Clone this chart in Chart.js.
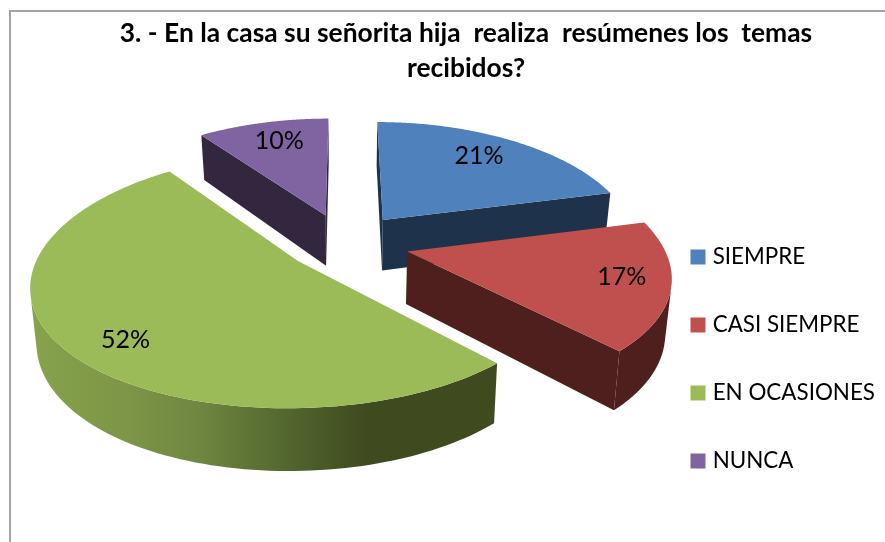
<!DOCTYPE html>
<html>
<head>
<meta charset="utf-8">
<style>html,body{margin:0;padding:0;background:#fff}canvas{display:block}</style>
<script src="https://cdn.jsdelivr.net/npm/chart.js@4/dist/chart.umd.min.js"></script>
</head>
<body>
<canvas id="c" width="885" height="542"></canvas>
<script>
const titleLines = ['3. - En la casa su señorita hija  realiza  resúmenes los  temas', 'recibidos?'];
const categories = ['SIEMPRE', 'CASI SIEMPRE', 'EN OCASIONES', 'NUNCA'];
const values = [21, 17, 52, 10];
const topColors = ['#4F81BD', '#C0504D', '#9BBB59', '#8064A2'];
const wallColors = ['#1F324C', '#4F1F1E', null, '#33273F'];
const greenWallColors = ['#87A34D', '#7D9647', '#6F8741', '#556A30', '#3F4A1F', '#3F4A1F'];
const greenWallStops = [0, 0.2, 0.36, 0.53, 0.72, 1];
const drawOrder = [3, 0, 1, 2];
const sliceOffsets = [63, 63, 58, 63];
const labelNudgeX = [-7, 11, 5, 4];
const labelNudgeY = [-1, -2, 12, 0];

const PX = 0.0007, PY = 0.0006, A = 794, SX = 1.02, H = 52, LIFT = 115.8, SHIFT = -3.2, LABEL_R = 0.78;

function project(el, px, py, down) {
  const wx = 1 + PX * py, wy = 1 + PY * py;
  const k = down ? 0.98 : 1;
  return {
    x: el.x + SHIFT + SX * px / wx * k,
    y: el.y - LIFT - A * (1 - 1 / wy) + (down ? H / wy : 0)
  };
}
function planePoint(off, r, ang) {
  return { px: off.x + r * Math.cos(ang), py: off.y - r * Math.sin(ang) };
}
function visibleWall(a, b, c, d) {
  const q = [a, b, c, d];
  let s = 0;
  for (let i = 0; i < 4; i++) {
    const u = q[i], v = q[(i + 1) % 4];
    s += u.x * v.y - v.x * u.y;
  }
  return s < 0;
}
function fillPoly(ctx, list) {
  ctx.beginPath();
  list.forEach((t, k) => k ? ctx.lineTo(t.x, t.y) : ctx.moveTo(t.x, t.y));
  ctx.closePath();
  ctx.fill();
}

const pie3d = {
  id: 'pie3d',
  beforeDraw(chart) {
    const ctx = chart.ctx;
    ctx.save();
    ctx.fillStyle = '#fff';
    ctx.fillRect(0, 0, chart.width, chart.height);
    ctx.strokeStyle = '#A3A3A3';
    ctx.lineWidth = 2;
    ctx.strokeRect(10, 11, chart.width + 40, chart.height + 40);
    ctx.restore();
  },
  beforeDatasetDraw(chart, args) {
    const ctx = chart.ctx;
    const arcs = chart.getDatasetMeta(args.index).data;
    ctx.save();
    drawOrder.forEach(i => {
      const el = arcs[i];
      const mid = (el.startAngle + el.endAngle) / 2;
      const d = el.options.offset;
      const off = { x: d * Math.cos(mid), y: -d * Math.sin(mid) };
      const pts = [{ px: off.x, py: off.y }];
      const n = 120;
      for (let k = 0; k <= n; k++) {
        pts.push(planePoint(off, el.outerRadius, el.startAngle + (el.endAngle - el.startAngle) * k / n));
      }
      const top = pts.map(q => project(el, q.px, q.py, false));
      const bot = pts.map(q => project(el, q.px, q.py, true));
      let wall = wallColors[i];
      if (!wall) {
        const minX = Math.min(...top.map(t => t.x)), maxX = Math.max(...top.map(t => t.x));
        wall = ctx.createLinearGradient(minX, 0, maxX, 0);
        greenWallStops.forEach((s, k) => wall.addColorStop(s, greenWallColors[k]));
      }
      ctx.fillStyle = wall;
      const last = pts.length - 1;
      if (visibleWall(top[0], top[1], bot[1], bot[0])) fillPoly(ctx, [top[0], top[1], bot[1], bot[0]]);
      if (visibleWall(top[last], top[0], bot[0], bot[last])) fillPoly(ctx, [top[last], top[0], bot[0], bot[last]]);
      const rimTop = [], rimBot = [];
      for (let a = 1; a < last; a++) {
        if (visibleWall(top[a], top[a + 1], bot[a + 1], bot[a])) {
          if (!rimTop.length) { rimTop.push(top[a]); rimBot.push(bot[a]); }
          rimTop.push(top[a + 1]);
          rimBot.push(bot[a + 1]);
        }
      }
      if (rimTop.length) fillPoly(ctx, rimTop.concat(rimBot.reverse()));
      ctx.fillStyle = el.options.backgroundColor;
      fillPoly(ctx, top);
    });
    ctx.restore();
    return false;
  },
  afterDatasetsDraw(chart) {
    const ctx = chart.ctx;
    const arcs = chart.getDatasetMeta(0).data;
    ctx.save();
    ctx.font = '25px Lato';
    ctx.fillStyle = '#000';
    ctx.textAlign = 'center';
    ctx.textBaseline = 'middle';
    arcs.forEach((el, i) => {
      const mid = (el.startAngle + el.endAngle) / 2;
      const d = el.options.offset;
      const off = { x: d * Math.cos(mid), y: -d * Math.sin(mid) };
      const q = planePoint(off, el.outerRadius * LABEL_R, mid);
      const s = project(el, q.px, q.py, false);
      ctx.fillText(values[i] + '%', s.x + labelNudgeX[i], s.y + labelNudgeY[i]);
    });
    ctx.restore();
  }
};

new Chart(document.getElementById('c'), {
  type: 'pie',
  data: {
    labels: categories,
    datasets: [{
      data: values,
      backgroundColor: topColors,
      borderWidth: 0,
      offset: sliceOffsets,
      radius: 250
    }]
  },
  options: {
    responsive: false,
    animation: false,
    layout: { padding: { left: 47, right: 0, top: 0, bottom: 0 } },
    plugins: {
      tooltip: { enabled: false },
      title: {
        display: true,
        text: titleLines,
        color: '#000',
        font: { family: 'Lato', size: 26.4, weight: 'bold', lineHeight: 1.35 },
        padding: { top: 15.5, bottom: 89 }
      },
      legend: {
        position: 'right',
        fullSize: false,
        labels: {
          color: '#000',
          font: { family: 'Lato', size: 22.4 },
          boxWidth: 7,
          boxHeight: 7,
          padding: 45.6,
          generateLabels(chart) {
            return Chart.overrides.doughnut.plugins.legend.labels.generateLabels(chart).map(item =>
              Object.assign(item, { lineWidth: 8, strokeStyle: item.fillStyle, lineJoin: 'miter' }));
          }
        }
      }
    }
  },
  plugins: [pie3d]
});
</script>
</body>
</html>
